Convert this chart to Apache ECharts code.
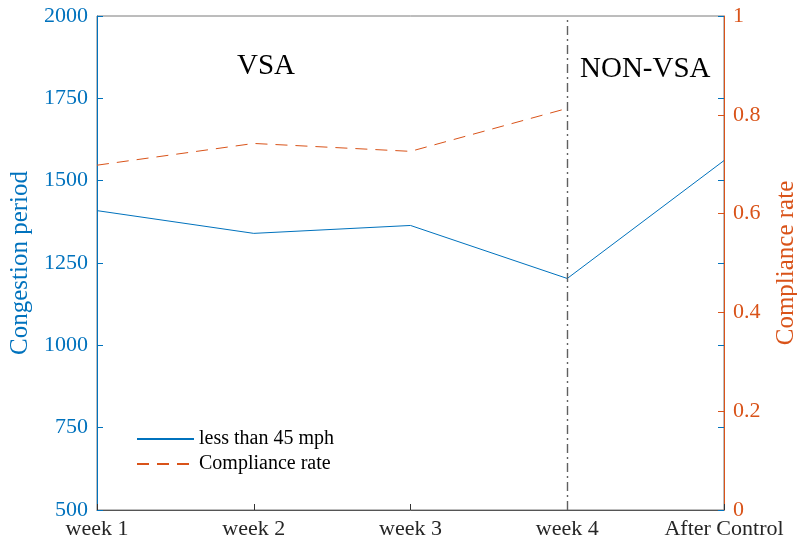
<!DOCTYPE html>
<html><head><meta charset="utf-8">
<script src="https://cdn.jsdelivr.net/npm/echarts@6/dist/echarts.min.js"></script>
<style>html,body{margin:0;padding:0;background:#fff}#c{width:797px;height:546px}</style>
</head><body><div id="c"></div>
<script>
const categories = ['week 1', 'week 2', 'week 3', 'week 4', 'After Control'];
const congestion = [1409, 1340, 1364, 1203, 1561];
const compliance = [0.698, 0.742, 0.726, 0.813, null];
const leftTicks = [500, 2000, 250];
const rightTicks = [0, 1, 0.2];
const BLUE = '#0072BD', ORANGE = '#D95319', FONT = 'Liberation Serif';

const chart = echarts.init(document.getElementById('c'));
chart.setOption({
  animation: false,
  backgroundColor: '#fff',
  grid: { left: 97, right: 73, top: 16, bottom: 36, show: true, borderColor: '#7a7a7a', borderWidth: 1,
          containLabel: false, outerBoundsMode: 'none' },
  legend: {
    orient: 'vertical', left: 136, top: 429, padding: 0, itemWidth: 57, itemHeight: 20, itemGap: 5,
    itemStyle: { opacity: 0 },
    textStyle: { fontFamily: FONT, fontSize: 20, color: '#000' },
    data: ['less than 45 mph', 'Compliance rate']
  },
  xAxis: {
    type: 'category', data: categories, boundaryGap: false,
    axisLine: { lineStyle: { color: '#555', width: 1 } },
    axisTick: { inside: true, length: 6, interval: 0, lineStyle: { color: '#333' } },
    axisLabel: { fontFamily: FONT, fontSize: 22, color: '#262626', margin: 8, interval: 0, hideOverlap: false },
    splitLine: { show: false }
  },
  yAxis: [
    {
      type: 'value', min: leftTicks[0], max: leftTicks[1], interval: leftTicks[2], position: 'left',
      name: 'Congestion period', nameLocation: 'middle', nameGap: 62,
      nameTextStyle: { fontFamily: FONT, fontSize: 25, color: BLUE },
      axisLine: { show: true, lineStyle: { color: BLUE, width: 1 } },
      axisTick: { show: true, inside: true, length: 6, lineStyle: { color: BLUE } },
      axisLabel: { fontFamily: FONT, fontSize: 22, color: BLUE, margin: 9, formatter: v => String(v) },
      splitLine: { show: false }
    },
    {
      type: 'value', min: rightTicks[0], max: rightTicks[1], interval: rightTicks[2], position: 'right',
      name: 'Compliance rate', nameLocation: 'middle', nameGap: 50, nameRotate: 90,
      nameTextStyle: { fontFamily: FONT, fontSize: 25, color: ORANGE },
      axisLine: { show: true, lineStyle: { color: ORANGE, width: 1 } },
      axisTick: { show: true, inside: true, length: 6, lineStyle: { color: ORANGE } },
      axisLabel: { fontFamily: FONT, fontSize: 22, color: ORANGE, margin: 9, formatter: v => String(v) },
      splitLine: { show: false }
    },
    {
      type: 'value', min: leftTicks[0], max: leftTicks[1], interval: leftTicks[2], position: 'right',
      axisLine: { show: false },
      axisTick: { show: true, inside: true, length: 6, lineStyle: { color: BLUE } },
      axisLabel: { show: false },
      splitLine: { show: false }
    }
  ],
  graphic: [
    { type: 'text', left: 237, top: 52, style: { text: 'VSA', font: '29px "Liberation Serif"', fill: '#000' } },
    { type: 'text', left: 580, top: 55, style: { text: 'NON-VSA', font: '29px "Liberation Serif"', fill: '#000' } }
  ],
  series: [
    {
      name: 'less than 45 mph', type: 'line', data: congestion, yAxisIndex: 0,
      symbol: 'none', lineStyle: { color: BLUE, width: 1 }, itemStyle: { color: BLUE },
      markLine: {
        silent: true, symbol: 'none', label: { show: false },
        lineStyle: { color: '#606060', width: 1.4, type: [9, 4, 2, 4] },
        data: [{ xAxis: 'week 4' }]
      }
    },
    {
      name: 'Compliance rate', type: 'line', data: compliance, yAxisIndex: 1,
      symbol: 'none', lineStyle: { color: ORANGE, width: 1, type: [12, 8] }, itemStyle: { color: ORANGE }
    }
  ]
});
</script></body></html>
